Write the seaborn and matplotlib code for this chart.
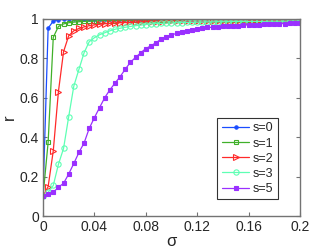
import matplotlib
matplotlib.use('Agg')
import matplotlib.pyplot as plt
import seaborn as sns
import pandas as pd
import numpy as np

# sigma values, step 0.004
sigma = [round(0.004 * k, 3) for k in range(51)]

s0 = [0.100, 0.953, 0.990, 0.996, 0.998, 0.999, 0.999, 1.000, 1.000, 1.000,
      1.000, 1.000, 1.000, 1.000, 1.000, 1.000, 1.000, 1.000, 1.000, 1.000,
      1.000, 1.000, 1.000, 1.000, 1.000, 1.000, 1.000, 1.000, 1.000, 1.000,
      1.000, 1.000, 1.000, 1.000, 1.000, 1.000, 1.000, 1.000, 1.000, 1.000,
      1.000, 1.000, 1.000, 1.000, 1.000, 1.000, 1.000, 1.000, 1.000, 1.000,
      1.000]
s1 = [0.100, 0.374, 0.907, 0.962, 0.975, 0.981, 0.984, 0.986, 0.988, 0.989,
      0.990, 0.991, 0.991, 0.992, 0.992, 0.993, 0.993, 0.993, 0.994, 0.994,
      0.994, 0.994, 0.995, 0.995, 0.995, 0.995, 0.995, 0.996, 0.996, 0.996,
      0.996, 0.996, 0.996, 0.996, 0.997, 0.997, 0.997, 0.997, 0.997, 0.997,
      0.997, 0.997, 0.997, 0.998, 0.998, 0.998, 0.998, 0.998, 0.998, 0.998,
      0.998]
s2 = [0.100, 0.149, 0.331, 0.631, 0.834, 0.915, 0.940, 0.952, 0.960, 0.966,
      0.970, 0.973, 0.976, 0.978, 0.980, 0.981, 0.982, 0.983, 0.984, 0.985,
      0.986, 0.986, 0.987, 0.987, 0.988, 0.988, 0.989, 0.989, 0.989, 0.990,
      0.990, 0.990, 0.991, 0.991, 0.991, 0.991, 0.992, 0.992, 0.992, 0.992,
      0.992, 0.993, 0.993, 0.993, 0.993, 0.993, 0.993, 0.994, 0.994, 0.994,
      0.994]
s3 = [0.100, 0.120, 0.155, 0.262, 0.343, 0.504, 0.660, 0.745, 0.829, 0.885,
      0.905, 0.920, 0.930, 0.940, 0.948, 0.953, 0.958, 0.962, 0.966, 0.969,
      0.972, 0.975, 0.977, 0.978, 0.979, 0.980, 0.981, 0.982, 0.983, 0.983,
      0.984, 0.984, 0.985, 0.985, 0.986, 0.986, 0.986, 0.987, 0.987, 0.987,
      0.988, 0.988, 0.988, 0.988, 0.989, 0.989, 0.989, 0.989, 0.990, 0.990,
      0.990]
s5 = [0.100, 0.110, 0.120, 0.146, 0.166, 0.213, 0.267, 0.323, 0.371, 0.445,
      0.499, 0.550, 0.600, 0.640, 0.674, 0.707, 0.745, 0.780, 0.805, 0.828,
      0.850, 0.864, 0.880, 0.898, 0.910, 0.919, 0.927, 0.935, 0.940, 0.944,
      0.950, 0.953, 0.957, 0.958, 0.960, 0.962, 0.964, 0.966, 0.967, 0.969,
      0.970, 0.971, 0.972, 0.973, 0.974, 0.975, 0.976, 0.977, 0.978, 0.979,
      0.980]

labels = ['s=0', 's=1', 's=2', 's=3', 's=5']
series = [s0, s1, s2, s3, s5]
colors = ['#1a4dff', '#40b02a', '#ff2a2a', '#5effb4', '#9a30ff']
markers = ['o', 's', '>', 'o', 's']
msizes = [2.4, 3.4, 3.8, 3.8, 3.4]
filled = [True, False, False, False, True]

sns.set_style('white')
plt.rcParams['font.family'] = ['Liberation Sans', 'DejaVu Sans']

fig = plt.figure(figsize=(3.32, 2.5), dpi=100)
ax = fig.add_axes([0.1295, 0.136, 0.774, 0.788])

for lab, ys, col, mk, ms, fl in zip(labels, series, colors, markers, msizes, filled):
    df = pd.DataFrame({'sigma': sigma, 'r': ys})
    sns.lineplot(data=df, x='sigma', y='r', ax=ax, color=col, lw=0.9,
                 marker=mk, markersize=ms,
                 markerfacecolor=col if fl else 'none',
                 markeredgecolor=col, markeredgewidth=0.8, label=lab)

ax.set_xlim(0, 0.2)
ax.set_ylim(0, 1)
ax.set_xticks([0, 0.04, 0.08, 0.12, 0.16, 0.2])
ax.set_xticklabels(['0', '0.04', '0.08', '0.12', '0.16', '0.2'])
ax.set_yticks([0, 0.2, 0.4, 0.6, 0.8, 1])
ax.set_yticklabels(['0', '0.2', '0.4', '0.6', '0.8', '1'])
ax.tick_params(direction='in', length=3, width=0.8, color='0.45',
               labelsize=10, pad=3, top=True, right=True,
               bottom=True, left=True)
for sp in ax.spines.values():
    sp.set_color('0.45')
    sp.set_linewidth(1.0)

ax.set_xlabel('σ', fontsize=12, labelpad=0)
ax.set_ylabel('r', fontsize=12, labelpad=2)

leg = ax.legend(loc='lower right', bbox_to_anchor=(0.915, 0.085),
                fontsize=9, frameon=True, fancybox=False,
                handlelength=2.2, handletextpad=0.3, labelspacing=0.25,
                borderpad=0.35, borderaxespad=0)
leg.get_frame().set_edgecolor('black')
leg.get_frame().set_linewidth(0.8)

fig.savefig('out.png', dpi=100)
